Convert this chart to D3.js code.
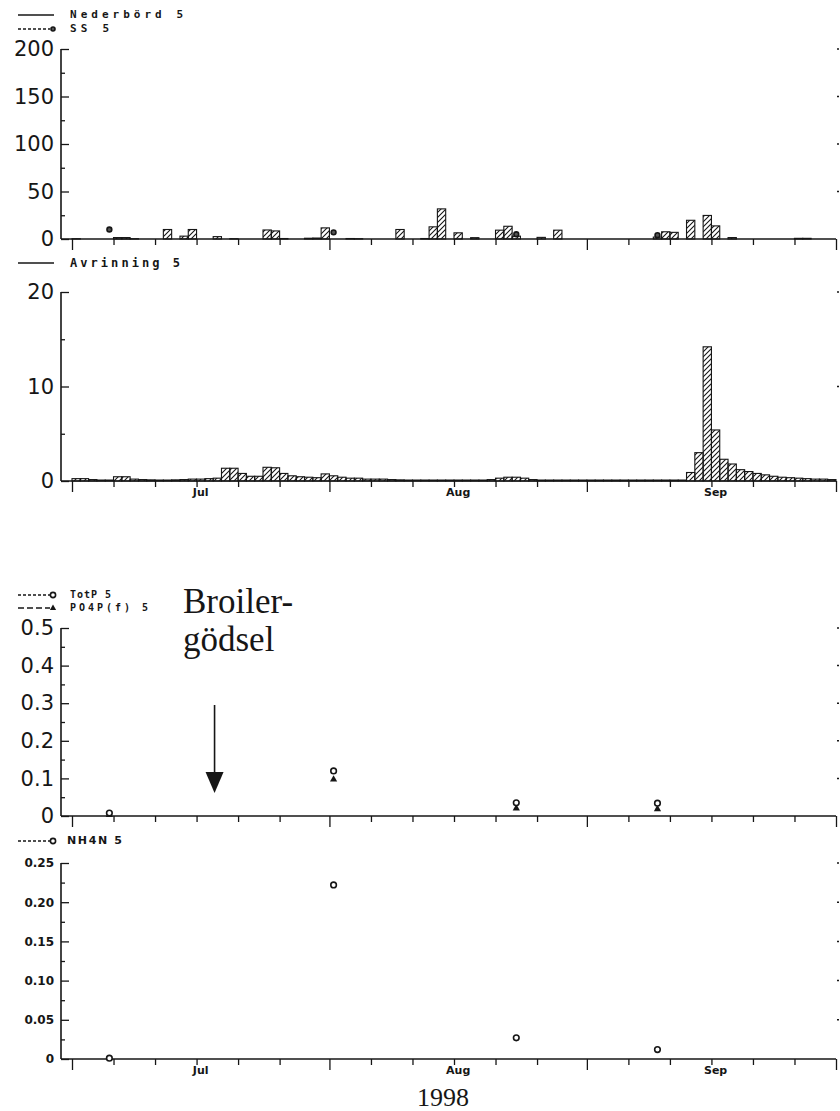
<!DOCTYPE html>
<html>
<head>
<meta charset="utf-8">
<script src="https://cdn.jsdelivr.net/npm/d3@7"></script>
<style>
  body { margin: 0; background: #fff; }
  svg { display: block; }
</style>
</head>
<body>
<svg id="chart" width="840" height="1111"></svg>
<script>
// ---- data: daily series, 1 Jul – 30 Sep 1998 (index 0 = 1 Jul) ----
const firstDay = new Date(1998, 6, 1);

// Nederbörd 5 (mm/day)
const nederbord = [
  0.3, 0, 0, 0, 0, 1.5, 1.5, 0.3, 0, 0,
  0, 10, 0, 3, 10, 0, 0, 2.5, 0, 0.3,
  0, 0, 0, 9.5, 8.5, 0.5, 0, 0, 0.8, 1,
  11.7, 0, 0, 0.5, 0.3, 0, 0, 0, 0, 10,
  0, 0, 0.5, 12.8, 31.7, 0, 6.5, 0, 1.4, 0,
  0, 9.3, 13.4, 3, 0, 0, 1.7, 0, 9.3, 0,
  0, 0, 0, 0, 0, 0, 0, 0, 0, 0,
  2, 7.6, 7, 0, 19.7, 0, 24.8, 13.8, 0, 1.5,
  0, 0, 0, 0, 0, 0, 0, 0.7, 0.7, 0,
  0, 0
];

// Avrinning 5 (runoff per day)
const avrinning = [
  0.25, 0.25, 0.15, 0.1, 0.1, 0.45, 0.45, 0.2, 0.15, 0.12,
  0.1, 0.1, 0.12, 0.15, 0.2, 0.2, 0.25, 0.3, 1.35, 1.35,
  0.8, 0.5, 0.5, 1.45, 1.4, 0.8, 0.55, 0.45, 0.4, 0.35,
  0.75, 0.55, 0.4, 0.3, 0.3, 0.2, 0.2, 0.2, 0.15, 0.12,
  0.1, 0.1, 0.1, 0.1, 0.1, 0.1, 0.1, 0.1, 0.1, 0.1,
  0.15, 0.3, 0.4, 0.4, 0.3, 0.15, 0.1, 0.1, 0.1, 0.1,
  0.1, 0.1, 0.1, 0.1, 0.1, 0.1, 0.1, 0.1, 0.1, 0.1,
  0.1, 0.1, 0.1, 0.1, 0.9, 3.0, 14.2, 5.4, 2.3, 1.8,
  1.2, 1.0, 0.8, 0.65, 0.5, 0.4, 0.35, 0.3, 0.25, 0.2,
  0.2, 0.15
];

// water samples
const sampleDates = [
  new Date(1998, 6, 5, 12),
  new Date(1998, 7, 1, 12),
  new Date(1998, 7, 23, 12),
  new Date(1998, 8, 9, 12)
];
const ss5   = [10, 7, 5, 4];
const totP5 = [0.008, 0.12, 0.035, 0.034];
const po4p5 = [0.004, 0.098, 0.021, 0.019];
const nh4n5 = [0.001, 0.222, 0.027, 0.012];

// axis labels
const monthNames = ["Jul", "Aug", "Sep"];
const yearLabel = "1998";
const panelTicks = {
  p1: { major: [0, 50, 100, 150, 200], minor: [25, 75, 125, 175] },
  p2: { major: [0, 10, 20], minor: [5, 15] },
  p3: { major: [0, 0.1, 0.2, 0.3, 0.4, 0.5], minor: [0.05, 0.15, 0.25, 0.35, 0.45] },
  p4: { major: [0, 0.05, 0.10, 0.15, 0.20, 0.25], minor: [0.025, 0.075, 0.125, 0.175, 0.225] }
};

// ---- layout ----
const ink = "#161616";
const plotLeft = 61, plotRight = 836;
const svg = d3.select("#chart");

const defs = svg.append("defs");
const hatch = defs.append("pattern")
  .attr("id", "hatch")
  .attr("patternUnits", "userSpaceOnUse")
  .attr("width", 5).attr("height", 5);
hatch.append("path")
  .attr("d", "M-1,1 l2,-2 M0,5 l5,-5 M4,6 l2,-2")
  .attr("stroke", ink).attr("stroke-width", 1.1);

const x = d3.scaleTime()
  .domain([new Date(1998, 6, 1), new Date(1998, 9, 1)])
  .range([72, 836]);

const days = nederbord.map((_, i) => d3.timeDay.offset(firstDay, i));

// tick dates: 1, 6, 11, 16, 21, 26 of each month, plus 1 Oct
const majorDates = [new Date(1998, 6, 1), new Date(1998, 7, 1), new Date(1998, 8, 1), new Date(1998, 9, 1)];
const minorDates = [];
[6, 7, 8].forEach(m => [6, 11, 16, 21, 26].forEach(d => minorDates.push(new Date(1998, m, d))));

function makeY(domainMax, top, bottom) {
  return d3.scaleLinear().domain([0, domainMax]).range([bottom, top]);
}

function drawFrame(y, ticks, opt) {
  const g = svg.append("g");
  const base = y(0);
  const top = y(y.domain()[1]);

  // x axis: minor and major ticks hanging below the baseline
  const xMinor = d3.axisBottom(x).tickValues(minorDates).tickSize(6).tickFormat("");
  const xMajor = d3.axisBottom(x).tickValues(majorDates).tickSize(11).tickFormat("");
  [xMinor, xMajor].forEach(ax => {
    const a = g.append("g").attr("transform", `translate(0,${base})`).call(ax);
    a.select(".domain").remove();
    a.selectAll("line").attr("stroke", ink).attr("stroke-width", 1.3);
  });
  g.append("line")
    .attr("x1", plotLeft).attr("x2", plotRight)
    .attr("y1", base).attr("y2", base)
    .attr("stroke", ink).attr("stroke-width", 1.3);

  if (opt.months) {
    monthNames.forEach((name, i) => {
      g.append("text")
        .attr("x", x(new Date(1998, 6 + i, 16, 12)))
        .attr("y", base + 15)
        .attr("text-anchor", "middle")
        .attr("font-family", "DejaVu Sans")
        .attr("font-weight", "bold")
        .attr("font-size", 11)
        .attr("fill", ink)
        .text(name);
    });
  }

  // y axis: ticks point into the plot, labels to the left
  const yMinor = d3.axisLeft(y).tickValues(ticks.minor).tickSize(-4).tickFormat("");
  const yMajor = d3.axisLeft(y).tickValues(ticks.major).tickSize(-8).tickPadding(7)
    .tickFormat(opt.format);
  const am = g.append("g").attr("transform", `translate(${plotLeft},0)`).call(yMinor);
  am.select(".domain").remove();
  am.selectAll("line").attr("stroke", ink).attr("stroke-width", 1.3);
  const aM = g.append("g").attr("transform", `translate(${plotLeft},0)`).call(yMajor);
  aM.select(".domain").remove();
  aM.selectAll("line").attr("stroke", ink).attr("stroke-width", 1.3);
  aM.selectAll("text")
    .attr("font-family", "DejaVu Sans")
    .attr("font-weight", opt.bold ? "bold" : "normal")
    .attr("font-size", opt.labelSize)
    .attr("fill", ink);
  g.append("line")
    .attr("x1", plotLeft).attr("x2", plotLeft)
    .attr("y1", base).attr("y2", top)
    .attr("stroke", ink).attr("stroke-width", 1.6);

  // short marks on the right edge
  g.selectAll(".rtick").data(ticks.major.filter(v => v > 0)).enter().append("line")
    .attr("x1", plotRight + 1).attr("x2", plotRight + 3)
    .attr("y1", d => y(d)).attr("y2", d => y(d))
    .attr("stroke", ink).attr("stroke-width", 1.5);
  return g;
}

function drawBars(y, values) {
  const g = svg.append("g");
  g.selectAll("rect").data(values.map((v, i) => ({ v, day: days[i] })).filter(d => d.v > 0))
    .enter().append("rect")
    .attr("x", d => x(d.day))
    .attr("width", d => x(d3.timeDay.offset(d.day, 1)) - x(d.day))
    .attr("y", d => y(d.v))
    .attr("height", d => y(0) - y(d.v))
    .attr("fill", "url(#hatch)")
    .attr("stroke", ink)
    .attr("stroke-width", 1.1);
}

function legendText(xp, yp, label, size, len) {
  svg.append("text")
    .attr("x", xp).attr("y", yp)
    .attr("font-family", "DejaVu Sans Mono")
    .attr("font-weight", "bold")
    .attr("font-size", size)
    .attr("textLength", len)
    .attr("lengthAdjust", "spacing")
    .attr("dominant-baseline", "middle")
    .attr("fill", ink)
    .text(label);
}
function legendLine(yp, dashed, x2) {
  svg.append("line")
    .attr("x1", 18).attr("x2", x2).attr("y1", yp).attr("y2", yp)
    .attr("stroke", ink).attr("stroke-width", 1.3)
    .attr("stroke-dasharray", dashed ? dashed : null);
}
function circleMark(g, cx, cy, r, fill) {
  g.append("circle").attr("cx", cx).attr("cy", cy).attr("r", r)
    .attr("fill", fill).attr("stroke", ink).attr("stroke-width", 1.6);
}
function triangleMark(g, cx, cy, s) {
  g.append("path")
    .attr("d", `M${cx},${cy - s} L${cx + s * 0.9},${cy + s * 0.6} L${cx - s * 0.9},${cy + s * 0.6} Z`)
    .attr("fill", ink);
}

// ---- panel 1: Nederbörd 5 / SS 5 ----
const y1 = makeY(200, 49, 239);
drawFrame(y1, panelTicks.p1, { labelSize: 21, format: d3.format("d") });
drawBars(y1, nederbord);
const ssG = svg.append("g");
sampleDates.forEach((d, i) => circleMark(ssG, x(d), y1(ss5[i]), 2.4, "#555"));
legendLine(15, null, 54);
legendText(70, 15, "Nederbörd 5", 11, 113);
legendLine(29, "3,2", 50);
circleMark(svg, 53, 29, 2, "#555");
legendText(70, 29, "SS 5", 11, 39);

// ---- panel 2: Avrinning 5 ----
const y2 = makeY(20, 292, 481);
drawFrame(y2, panelTicks.p2, { labelSize: 21, format: d3.format("d"), months: true });
drawBars(y2, avrinning);
legendLine(263, null, 54);
legendText(70, 263, "Avrinning 5", 12, 110);

// ---- panel 3: TotP 5 / PO4P(f) 5 ----
const y3 = makeY(0.5, 628, 816);
drawFrame(y3, panelTicks.p3, { labelSize: 21, format: v => v === 0 ? "0" : d3.format(".1f")(v) });
const pG = svg.append("g");
sampleDates.forEach((d, i) => triangleMark(pG, x(d), y3(po4p5[i]), 4));
sampleDates.forEach((d, i) => circleMark(pG, x(d), y3(totP5[i]), 2.8, "#fff"));
legendLine(595, "3,2", 50);
circleMark(svg, 53, 595, 2.6, "#fff");
legendText(70, 595, "TotP 5", 10, 41);
legendLine(608, "6,3", 50);
triangleMark(svg, 53, 608, 3.5);
legendText(70, 608, "PO4P(f) 5", 10, 78);

// fertiliser annotation
const arrowX = x(new Date(1998, 6, 18, 4));
svg.append("text")
  .attr("x", 183).attr("y", 613)
  .attr("font-family", "Liberation Serif")
  .attr("font-size", 35)
  .attr("fill", ink)
  .text("Broiler-");
svg.append("text")
  .attr("x", 183).attr("y", 651)
  .attr("font-family", "Liberation Serif")
  .attr("font-size", 35)
  .attr("fill", ink)
  .text("gödsel");
svg.append("line")
  .attr("x1", arrowX).attr("x2", arrowX)
  .attr("y1", 705).attr("y2", 775)
  .attr("stroke", ink).attr("stroke-width", 1.6);
svg.append("path")
  .attr("d", `M${arrowX - 9},772 L${arrowX + 9},772 L${arrowX},793 Z`)
  .attr("fill", ink);

// ---- panel 4: NH4N 5 ----
const y4 = makeY(0.25, 863, 1059);
drawFrame(y4, panelTicks.p4, { labelSize: 12, bold: true,
  format: v => v === 0 ? "0" : d3.format(".2f")(v), months: true });
const nG = svg.append("g");
sampleDates.forEach((d, i) => circleMark(nG, x(d), y4(nh4n5[i]), 2.8, "#fff"));
legendLine(841, "3,2", 50);
circleMark(svg, 53, 841, 2.6, "#fff");
svg.append("text")
  .attr("x", 67).attr("y", 841)
  .attr("font-family", "DejaVu Sans")
  .attr("font-weight", "bold")
  .attr("font-size", 11)
  .attr("textLength", 55)
  .attr("lengthAdjust", "spacing")
  .attr("dominant-baseline", "middle")
  .attr("fill", ink)
  .text("NH4N 5");

// year caption
svg.append("text")
  .attr("x", 443).attr("y", 1106)
  .attr("text-anchor", "middle")
  .attr("font-family", "Liberation Serif")
  .attr("font-size", 26)
  .attr("fill", ink)
  .text(yearLabel);
</script>
</body>
</html>
